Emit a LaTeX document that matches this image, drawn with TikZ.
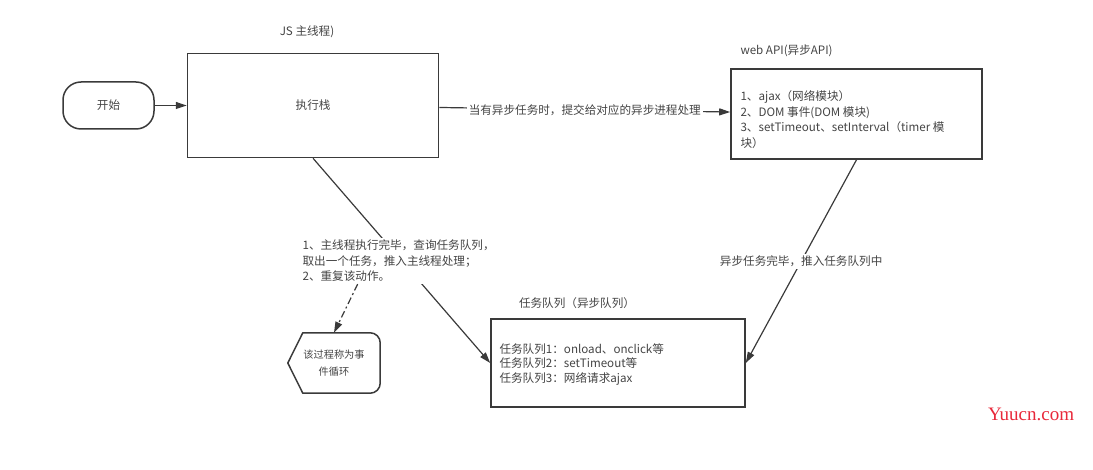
\documentclass[tikz,border=0pt]{standalone}
\usepackage{fontspec}
\setmainfont{Noto Sans CJK SC}
\newfontfamily\markfont{Liberation Serif}
\usetikzlibrary{positioning,calc,arrows.meta}

\definecolor{ink}{HTML}{3A3A3A}
\definecolor{txt}{HTML}{444444}
\definecolor{markred}{HTML}{E8283A}

\begin{document}
\begin{tikzpicture}[x=1pt, y=1pt, >={Triangle[length=11pt,width=7pt]}, font=\fontsize{11.6}{15.5}\selectfont, text=txt, box/.style = {draw=ink, line width=1.6pt, fill=white, minimum width=251pt, minimum height=104pt}, term/.style = {draw=ink, line width=1.5pt, rounded corners=18pt, minimum width=91pt, minimum height=47pt}, lbl/.style = {fill=white, inner sep=2pt, align=left}, every edge/.append style={->, draw=ink, line width=1.2pt}]

\useasboundingbox (0,0) rectangle (1093,469);

\node[term] (start) at (108.5,363.5) {开始};
\node[box] (exec) [right=32pt of start] {执行栈};
\node (jstitle) at (307,437) {JS 主线程)};

\node[box, minimum height=90pt] (webapi) at (856.5,355) {};
\node[anchor=west] (apititle) at (737,418) {web API(异步API)};
\node[anchor=west, align=left] (apilist) at (737,349.5) {1、ajax（网络模块）\\2、DOM 事件(DOM 模块)\\3、setTimeout、setInterval（timer 模\\块）};

\node[box, minimum width=254pt, minimum height=88pt] (queue) at (618,106) {};
\node (qtitle) at (577,166) {任务队列（异步队列）};
\node[anchor=west, align=left, font=\fontsize{11.6}{14.5}\selectfont] (qlist) at (496,104.5) {任务队列1：onload、onclick等\\任务队列2：setTimeout等\\任务队列3：网络请求ajax};

\node[minimum width=92pt, minimum height=60pt, align=center, font=\fontsize{10.2}{17}\selectfont] (loop) at (334,106) {该过程称为事\\件循环};
\draw[draw=ink, line width=1.5pt, line join=round] (loop.west) -- ([xshift=15pt]loop.north west) -- ([xshift=-10pt]loop.north east) arc[start angle=90, end angle=0, radius=10pt] -- ([yshift=10pt]loop.south east) arc[start angle=0, end angle=-90, radius=10pt] -- ([xshift=15pt]loop.south west) -- cycle;

\path 
    (start) edge (exec)
    (exec) edge node[lbl] {当有异步任务时，提交给对应的异步进程处理} (webapi)
    (exec.south) edge node[lbl, xshift=-3pt] (note) {1、主线程执行完毕，查询任务队列，\\取出一个任务，推入主线程处理；\\2、重复该动作。} (queue.west)
    (webapi.south) edge node[lbl] {异步任务完毕，推入任务队列中} (queue.east);

\draw[->, draw=ink, line width=1.2pt, dash pattern=on 7pt off 3pt on 2pt off 3pt] ([xshift=-41pt]note.south) -- (loop.north);

\node[text=markred, font=\markfont\fontsize{19}{19}\selectfont] (mark) at (1031,55) {Yuucn.com};
\end{tikzpicture}
\end{document}
